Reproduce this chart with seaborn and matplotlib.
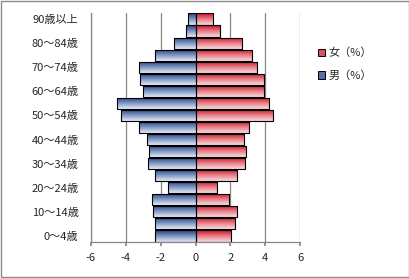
import numpy as np
import pandas as pd
import matplotlib
matplotlib.use("Agg")
import matplotlib.pyplot as plt
import seaborn as sns
from matplotlib.patches import Rectangle
from matplotlib.colors import LinearSegmentedColormap

# ---- data (bottom -> top) ----
ages = ["0〜4歳", "5〜9歳", "10〜14歳", "15〜19歳", "20〜24歳", "25〜29歳",
        "30〜34歳", "35〜39歳", "40〜44歳", "45〜49歳", "50〜54歳", "55〜59歳",
        "60〜64歳", "65〜69歳", "70〜74歳", "75〜79歳", "80〜84歳", "85〜89歳",
        "90歳以上"]
male = [2.31, 2.31, 2.44, 2.50, 1.58, 2.31, 2.73, 2.67, 2.79, 3.25,
        4.27, 4.52, 3.02, 3.19, 3.25, 2.31, 1.23, 0.54, 0.43]
female = [2.05, 2.28, 2.40, 1.94, 1.25, 2.40, 2.86, 2.92, 2.80, 3.09,
          4.42, 4.24, 3.90, 3.90, 3.55, 3.26, 2.65, 1.40, 1.02]
series_labels = ["女（%）", "男（%）"]
xticks = [-6, -4, -2, 0, 2, 4, 6]

df = pd.DataFrame({
    "age": ages * 2,
    "value": [-v for v in male] + female,
    "sex": [series_labels[1]] * len(ages) + [series_labels[0]] * len(ages),
})

sns.set_theme(style="white")
plt.rcParams["font.family"] = ["Noto Sans CJK JP", "DejaVu Sans"]

fig = plt.figure(figsize=(4.10, 2.78), dpi=100)
ax = fig.add_axes([0.222, 0.1295, 0.510, 0.824])

order = ages[::-1]
sns.barplot(data=df, x="value", y="age", hue="sex", order=order,
            hue_order=series_labels, orient="h", dodge=False, width=0.92,
            ax=ax, legend=False, edgecolor="black", linewidth=0.8)

male_cmap = LinearSegmentedColormap.from_list("m", ["#203f80", "#7f95c2", "#e6ebf5"])
female_cmap = LinearSegmentedColormap.from_list("f", ["#cf0f1f", "#e77f88", "#f8dde0"])
grad = np.linspace(0, 1, 64).reshape(-1, 1)

for p in list(ax.patches):
    w = p.get_width()
    if w == 0 or np.isnan(w):
        continue
    x0, y0 = p.get_x(), p.get_y()
    h = p.get_height()
    cmap = male_cmap if w < 0 else female_cmap
    p.set_facecolor("none")
    p.set_zorder(3)
    ytop, ybot = min(y0, y0 + h), max(y0, y0 + h)
    im = ax.imshow(grad, cmap=cmap, aspect="auto", origin="upper",
                   extent=[min(x0, x0 + w), max(x0, x0 + w), ybot, ytop],
                   zorder=2, interpolation="bilinear")
    im.set_clip_path(p)

ax.set_xlim(-6, 6)
ax.set_ylim(len(ages) - 0.5, -0.5)
ax.set_xticks(xticks)
ax.set_xticklabels([str(t) for t in xticks])
shown = list(range(len(order) - 1, -1, -2))
ax.set_yticks(shown)
ax.set_yticklabels([order[i] for i in shown])
ax.set_xlabel("")
ax.set_ylabel("")

ax.grid(axis="x", color="#868686", linewidth=0.9, zorder=0)
ax.grid(axis="y", visible=False)
ax.set_axisbelow(True)
for s in ["top", "right"]:
    ax.spines[s].set_visible(False)
for s in ["left", "bottom"]:
    ax.spines[s].set_visible(True)
    ax.spines[s].set_color("#868686")
    ax.spines[s].set_linewidth(0.9)
ax.tick_params(axis="x", direction="out", length=3, color="#868686",
               labelsize=8, pad=5, bottom=True)
ax.tick_params(axis="y", length=0, labelsize=8, pad=9)

handles = [Rectangle((0, 0), 1, 1, facecolor="#e0505c", edgecolor="black", linewidth=0.7),
           Rectangle((0, 0), 1, 1, facecolor="#5370a8", edgecolor="black", linewidth=0.7)]
fig.legend(handles, series_labels, loc="upper left", bbox_to_anchor=(0.765, 0.845),
           frameon=False, fontsize=8, handlelength=0.6, handleheight=0.6,
           handletextpad=0.3, labelspacing=1.1, borderaxespad=0)

fig.patches.append(Rectangle((0.002, 0.003), 0.995, 0.993, transform=fig.transFigure,
                             fill=False, edgecolor="#8c8c8c", linewidth=1.0))

fig.savefig("out.png", dpi=100)
